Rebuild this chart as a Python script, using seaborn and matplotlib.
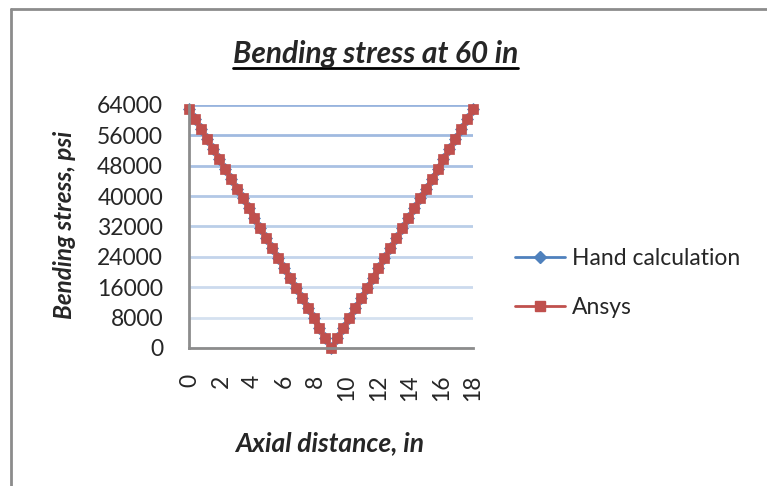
import numpy as np
import pandas as pd
import matplotlib
matplotlib.use('Agg')
import matplotlib.pyplot as plt
from matplotlib.lines import Line2D
import seaborn as sns

# Axial positions along the beam (in)
axial_in = [0, 0.375, 0.75, 1.125, 1.5, 1.875, 2.25, 2.625, 3, 3.375, 3.75, 4.125,
            4.5, 4.875, 5.25, 5.625, 6, 6.375, 6.75, 7.125, 7.5, 7.875, 8.25, 8.625,
            9, 9.375, 9.75, 10.125, 10.5, 10.875, 11.25, 11.625, 12, 12.375, 12.75,
            13.125, 13.5, 13.875, 14.25, 14.625, 15, 15.375, 15.75, 16.125, 16.5,
            16.875, 17.25, 17.625, 18]

# Bending stress (psi)
hand_calc = [63000, 60375, 57750, 55125, 52500, 49875, 47250, 44625, 42000, 39375,
             36750, 34125, 31500, 28875, 26250, 23625, 21000, 18375, 15750, 13125,
             10500, 7875, 5250, 2625, 0, 2625, 5250, 7875, 10500, 13125, 15750,
             18375, 21000, 23625, 26250, 28875, 31500, 34125, 36750, 39375, 42000,
             44625, 47250, 49875, 52500, 55125, 57750, 60375, 63000]
ansys = [63000, 60375, 57750, 55125, 52500, 49875, 47250, 44625, 42000, 39375,
         36750, 34125, 31500, 28875, 26250, 23625, 21000, 18375, 15750, 13125,
         10500, 7875, 5250, 2625, 0, 2625, 5250, 7875, 10500, 13125, 15750,
         18375, 21000, 23625, 26250, 28875, 31500, 34125, 36750, 39375, 42000,
         44625, 47250, 49875, 52500, 55125, 57750, 60375, 63000]

y_ticks = [0, 8000, 16000, 24000, 32000, 40000, 48000, 56000, 64000]
x_ticks = [0, 2, 4, 6, 8, 10, 12, 14, 16, 18]

blue = '#4F81BD'
red = '#C0504D'

sns.set_style('white')
plt.rcParams['font.family'] = ['Lato', 'DejaVu Sans']

df = pd.DataFrame({'x': axial_in, 'hand': hand_calc, 'ansys': ansys})

fig = plt.figure(figsize=(7.67, 4.86), dpi=100)
ax = fig.add_axes([0.247, 0.284, 0.6167 - 0.247, 0.784 - 0.284])

sns.lineplot(data=df, x='x', y='hand', ax=ax, color=blue, lw=2.2,
             marker='D', markersize=6.5, markeredgecolor=blue, markeredgewidth=0.5)
sns.lineplot(data=df, x='x', y='ansys', ax=ax, color=red, lw=2.2,
             marker='s', markersize=7.6, markeredgecolor=red, markeredgewidth=0.5)
for ln in ax.lines:
    ln.set_clip_on(False)

ax.set_xlim(0, 18)
ax.set_ylim(0, 64000)
ax.set_xticks(x_ticks)
ax.set_yticks(y_ticks)
ax.set_xticklabels([str(t) for t in x_ticks], rotation=90, fontsize=16.5)
ax.set_yticklabels([str(t) for t in y_ticks], fontsize=16.5)
ax.tick_params(axis='x', length=0, pad=19)
ax.tick_params(axis='y', length=0, pad=19)
for lbl in ax.get_xticklabels():
    lbl.set_va('top')

ax.grid(axis='y', lw=2)
ax.set_axisbelow(True)
grid_cols = ['#DCE6F2', '#D5E1F0', '#CCDAEE', '#C3D4EB', '#BACEE8', '#B2C8E6',
             '#A9C1E3', '#A0BAE0', '#98B4DE']
for gl, c in zip(ax.get_ygridlines(), grid_cols):
    gl.set_color(c)

for s in ['top', 'right']:
    ax.spines[s].set_visible(False)
for s in ['left', 'bottom']:
    ax.spines[s].set_color('#8C8C8C')
    ax.spines[s].set_linewidth(2)

ax.set_xlabel('')
ax.set_ylabel('')

title = fig.text(375.5 / 767, 1 - 63 / 486, 'Bending stress at 60 in', ha='center',
                 va='baseline', fontsize=21.5, fontweight='bold', fontstyle='italic')
fig.text(64 / 767, 1 - 225 / 486, 'Bending stress, psi', rotation=90,
         ha='center', va='center', fontsize=17.5, fontweight='bold', fontstyle='italic')
fig.text(330 / 767, 1 - 443 / 486, 'Axial distance, in', ha='center', va='center',
         fontsize=19, fontweight='bold', fontstyle='italic')

# underline for the title, matched to its drawn width
fig.canvas.draw()
bb = title.get_window_extent().transformed(fig.transFigure.inverted())
fig.add_artist(Line2D([bb.x0, bb.x1], [1 - 68 / 486, 1 - 68 / 486], color='black', lw=2))

handles = [Line2D([], [], color=blue, lw=2, marker='D', markersize=6),
           Line2D([], [], color=red, lw=2, marker='s', markersize=7)]
fig.legend(handles, ['Hand calculation', 'Ansys'], loc='center left',
           bbox_to_anchor=(515 / 767, 1 - 283 / 486), frameon=False, fontsize=16.5,
           borderaxespad=0, borderpad=0,
           handlelength=2.2, handletextpad=0.3, labelspacing=1.2)

# outer chart frame (left and top edges visible)
fig.add_artist(Line2D([11 / 767, 11 / 767], [-0.1, 1 - 9 / 486], color='#8C8C8C', lw=2))
fig.add_artist(Line2D([11 / 767, 1.1], [1 - 9 / 486, 1 - 9 / 486], color='#8C8C8C', lw=2))

fig.savefig('out.png', dpi=100)
